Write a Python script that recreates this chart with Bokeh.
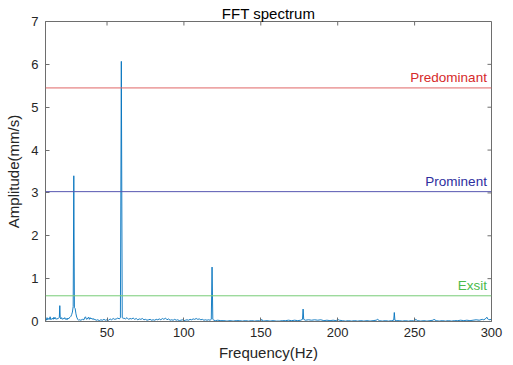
from bokeh.plotting import figure
from bokeh.models import Span, Range1d, FixedTicker, Label
from bokeh.embed import file_html
from bokeh.resources import INLINE

# ---- data ----
freq = [10, 10.5, 11, 11.5, 12, 12.5, 13, 13.5, 14, 14.5, 15, 15.5, 16, 16.5, 17, 17.5, 18, 18.5, 19, 19.3, 19.6,
        20, 20.5, 21, 21.5, 22, 22.5, 23, 23.5, 24, 24.5, 25, 25.5, 26, 26.5, 27, 27.5, 28.0, 28.4, 28.8, 29.3, 29.8,
        30.3, 31, 31.5, 32, 33, 34, 35, 35.5, 36, 36.5, 37, 37.5, 38, 38.5, 39, 39.5, 40, 40.5, 41, 41.5, 42, 43, 44,
        45, 46, 47, 48, 49, 50, 51, 52, 53, 54, 55, 56, 57, 58, 58.7, 59.3, 59.9, 60.5, 61, 62, 63, 64, 65, 66, 67,
        68, 69, 70, 71, 72, 73, 74, 75, 76, 77, 78, 79, 80, 81, 82, 83, 84, 85, 86, 87, 88, 89, 90, 91, 92, 93, 94,
        95, 96, 97, 98, 99, 100, 101, 102, 103, 104, 105, 106, 107, 108, 109, 110, 111, 112, 113, 114, 115, 116, 117,
        117.8, 118.3, 118.8, 119.5, 120.5, 122, 124, 126, 128, 130, 132, 134, 136, 138, 140, 142, 144, 146, 148, 150,
        150.6, 151.5, 154, 156, 158, 160, 162, 164, 166, 168, 170, 172, 174, 176, 177.1, 177.5, 177.9, 179, 181, 183,
        185, 187, 189, 191, 193, 195, 197, 199, 200, 201, 203, 205, 207, 209, 211, 213, 215, 217, 219, 221, 223, 225,
        226, 227, 229, 231, 233, 235, 236.4, 236.8, 237.2, 238, 240, 242, 244, 246, 248, 250, 250.6, 252, 254, 256,
        258, 260, 262, 262.6, 264, 266, 268, 270, 272, 274, 276, 278, 280, 282, 284, 286, 288, 290, 292, 294, 295,
        296, 297, 297.5, 298, 299, 300]
amp = [0.06, 0.03, 0.09, 0.04, 0.07, 0.05, 0.11, 0.04, 0.06, 0.08, 0.05, 0.10, 0.06, 0.09, 0.05, 0.07, 0.06, 0.08, 0.10, 0.37, 0.08,
       0.06, 0.09, 0.05, 0.07, 0.06, 0.09, 0.05, 0.07, 0.04, 0.08, 0.06, 0.09, 0.10, 0.12, 0.16, 0.22, 0.35, 3.40, 0.32, 0.30, 0.18,
       0.10, 0.05, 0.03, 0.04, 0.03, 0.05, 0.04, 0.09, 0.11, 0.06, 0.05, 0.08, 0.10, 0.05, 0.09, 0.06, 0.08, 0.05, 0.07, 0.04, 0.05, 0.03, 0.04,
       0.02, 0.04, 0.03, 0.05, 0.03, 0.04, 0.03, 0.06, 0.04, 0.07, 0.05, 0.06, 0.08, 0.06, 0.09, 6.07, 0.09, 0.07, 0.08, 0.06, 0.09, 0.05, 0.07, 0.06, 0.08,
       0.05, 0.07, 0.04, 0.06, 0.05, 0.07, 0.04, 0.05, 0.03, 0.04, 0.05, 0.03, 0.04, 0.03, 0.05, 0.04, 0.06, 0.04, 0.07, 0.05, 0.08, 0.04, 0.06, 0.03, 0.04, 0.03, 0.05,
       0.03, 0.04, 0.02, 0.03, 0.04, 0.02, 0.03, 0.04, 0.03, 0.05, 0.04, 0.06, 0.05, 0.07, 0.05, 0.06, 0.04, 0.05, 0.03, 0.04, 0.03, 0.04, 0.03,
       0.05, 1.27, 0.05, 0.03, 0.02, 0.03, 0.02, 0.02, 0.01, 0.02, 0.01, 0.02, 0.02, 0.01, 0.02, 0.01, 0.02, 0.01, 0.02, 0.01,
       0.05, 0.01, 0.02, 0.01, 0.02, 0.01, 0.01, 0.02, 0.02, 0.03, 0.02, 0.03, 0.02, 0.03, 0.05, 0.29, 0.05, 0.03, 0.04, 0.03,
       0.04, 0.03, 0.04, 0.02, 0.03, 0.02, 0.03, 0.02, 0.05, 0.03, 0.02, 0.01, 0.02, 0.01, 0.02, 0.01, 0.02, 0.01, 0.02, 0.01, 0.02, 0.03,
       0.05, 0.02, 0.01, 0.02, 0.01, 0.02, 0.03, 0.21, 0.03, 0.02, 0.02, 0.01, 0.02, 0.01, 0.02, 0.01, 0.05, 0.02, 0.01, 0.02,
       0.01, 0.02, 0.03, 0.05, 0.02, 0.01, 0.02, 0.01, 0.02, 0.01, 0.02, 0.02, 0.03, 0.02, 0.03, 0.02, 0.03, 0.04, 0.03, 0.05, 0.04,
       0.06, 0.10, 0.06, 0.05, 0.04, 0.06]

levels = [5.45, 3.03, 0.60]
level_names = ["Predominant", "Prominent", "Exsit"]
level_line_colors = ["#e06666", "#5555b0", "#77cc77"]
level_text_colors = ["#d62a2a", "#2e2e9e", "#4cbb4c"]

x_ticks = [50, 100, 150, 200, 250, 300]
y_ticks = [0, 1, 2, 3, 4, 5, 6, 7]
x_min, x_max, y_min, y_max = 10, 300, 0, 7

FONT = "Liberation Sans"
AX = "#6e6e6e"
TXT = "#262626"
FW, FH = 446, 300

p = figure(frame_width=FW, frame_height=FH, output_backend="svg", toolbar_location=None,
           x_range=Range1d(x_min, x_max), y_range=Range1d(y_min, y_max),
           title="FFT spectrum", min_border_left=37, min_border_right=14,
           min_border_top=13, min_border_bottom=36)
p.margin = (2, 0, 0, 2)
p.title.align = "center"
p.title.text_font = FONT
p.title.text_font_size = "15px"
p.title.text_font_style = "normal"
p.title.text_color = "#000000"
p.title.standoff = 0
p.title.offset = 0

p.line(freq, amp, line_color="#0072BD", line_width=0.9)

for lv, name, lc, tc in zip(levels, level_names, level_line_colors, level_text_colors):
    p.add_layout(Span(location=lv, dimension="width", line_color=lc, line_width=1))
    p.add_layout(Label(x=297, y=lv, text=name, text_align="right", text_baseline="bottom",
                       y_offset=3, text_font=FONT, text_font_size="13.5px", text_color=tc))

# inward ticks on the top and right edges of the box (MATLAB style)
tick_dx = (x_max - x_min) * 4 / FW
tick_dy = (y_max - y_min) * 4 / FH
p.segment(x0=x_ticks, y0=[y_max] * len(x_ticks), x1=x_ticks, y1=[y_max - tick_dy] * len(x_ticks),
          line_color=AX, line_width=1)
p.segment(x0=[x_max] * len(y_ticks), y0=y_ticks, x1=[x_max - tick_dx] * len(y_ticks), y1=y_ticks,
          line_color=AX, line_width=1)

p.xgrid.visible = False
p.ygrid.visible = False
p.outline_line_color = AX
p.background_fill_color = "white"
p.border_fill_color = "white"

for ax, tk in ((p.xaxis[0], x_ticks), (p.yaxis[0], y_ticks)):
    ax.ticker = FixedTicker(ticks=tk)
    ax.axis_line_color = AX
    ax.major_tick_line_color = AX
    ax.major_tick_in = 4
    ax.major_tick_out = 0
    ax.minor_tick_line_color = None
    ax.major_label_text_font = FONT
    ax.major_label_text_font_size = "13px"
    ax.major_label_text_color = TXT
    ax.axis_label_text_font = FONT
    ax.axis_label_text_font_size = "15px"
    ax.axis_label_text_font_style = "normal"
    ax.axis_label_text_color = TXT

p.xaxis.axis_label = "Frequency(Hz)"
p.yaxis.axis_label = "Amplitude(mm/s)"
p.xaxis.major_label_standoff = 6
p.yaxis.major_label_standoff = 7
p.xaxis.axis_label_standoff = 4
p.yaxis.axis_label_standoff = 6

open("out.html", "w").write(file_html(p, INLINE))
